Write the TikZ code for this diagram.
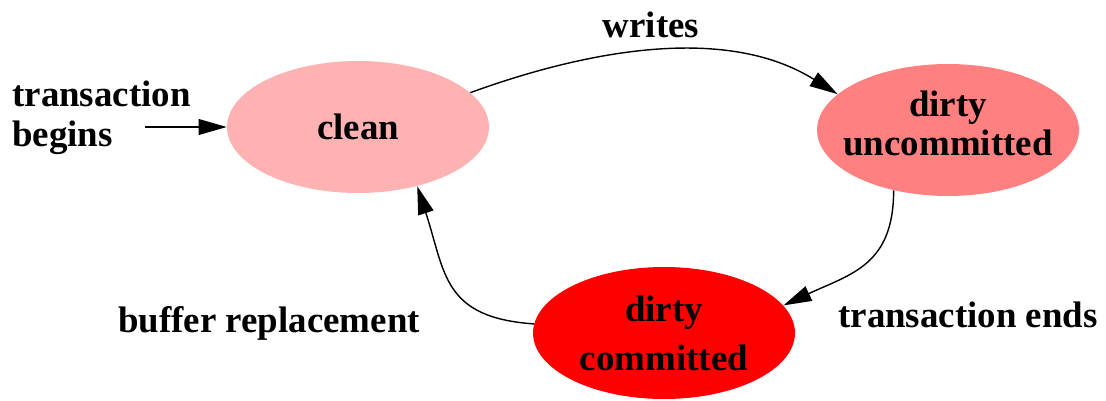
\documentclass[tikz,border=0pt]{standalone}
\usepackage{fontspec}
\setmainfont{Liberation Serif}
\usetikzlibrary{arrows.meta}
\usetikzlibrary{shapes.geometric}

\definecolor{cleancol}{RGB}{255,178,178}
\definecolor{uncomcol}{RGB}{255,128,128}
\definecolor{comcol}{RGB}{255,0,0}

\begin{document}
\begin{tikzpicture}[x=0.02cm, y=0.02cm,
  state/.style={ellipse, inner xsep=-10pt, inner ysep=0pt, minimum width=5.24cm, minimum height=2.64cm, align=center, font=\fontsize{21}{22}\selectfont\bfseries},
  lbl/.style={inner sep=0pt, align=left, font=\fontsize{21}{23}\selectfont\bfseries},
  trans/.style={black, line width=0.8pt, ->, >={Triangle[length=16pt,width=9pt]}}]
\useasboundingbox (0,0) rectangle (1106,400);
\node[state, fill=cleancol] (clean) at (358,273) {clean};
\node[state, fill=uncomcol, text depth=8pt] (uncom) at (948,270) {dirty\\uncommitted};
\node[state, fill=comcol] (com) at (664,67) {dirty\\[6pt]committed};
\node[lbl, anchor=west] (begins) at (12,282) {transaction\\begins};
\node[lbl] (writes) at (651,375) {writes};
\node[lbl] (ends) at (968,85) {transaction ends};
\node[lbl] (replace) at (269,77) {buffer replacement};
\coordinate (start) at (145,273);
\draw[trans] (start) -- (clean);
\draw[trans] (clean.17) to[out=20, in=148, looseness=0.9] (uncom.162);
\draw[trans] (uncom.228) to[out=-90, in=25, looseness=1.2] (com.13);
\draw[trans] (com.176) to[out=176, in=-72, looseness=1.3] (clean.315);
\end{tikzpicture}
\end{document}
